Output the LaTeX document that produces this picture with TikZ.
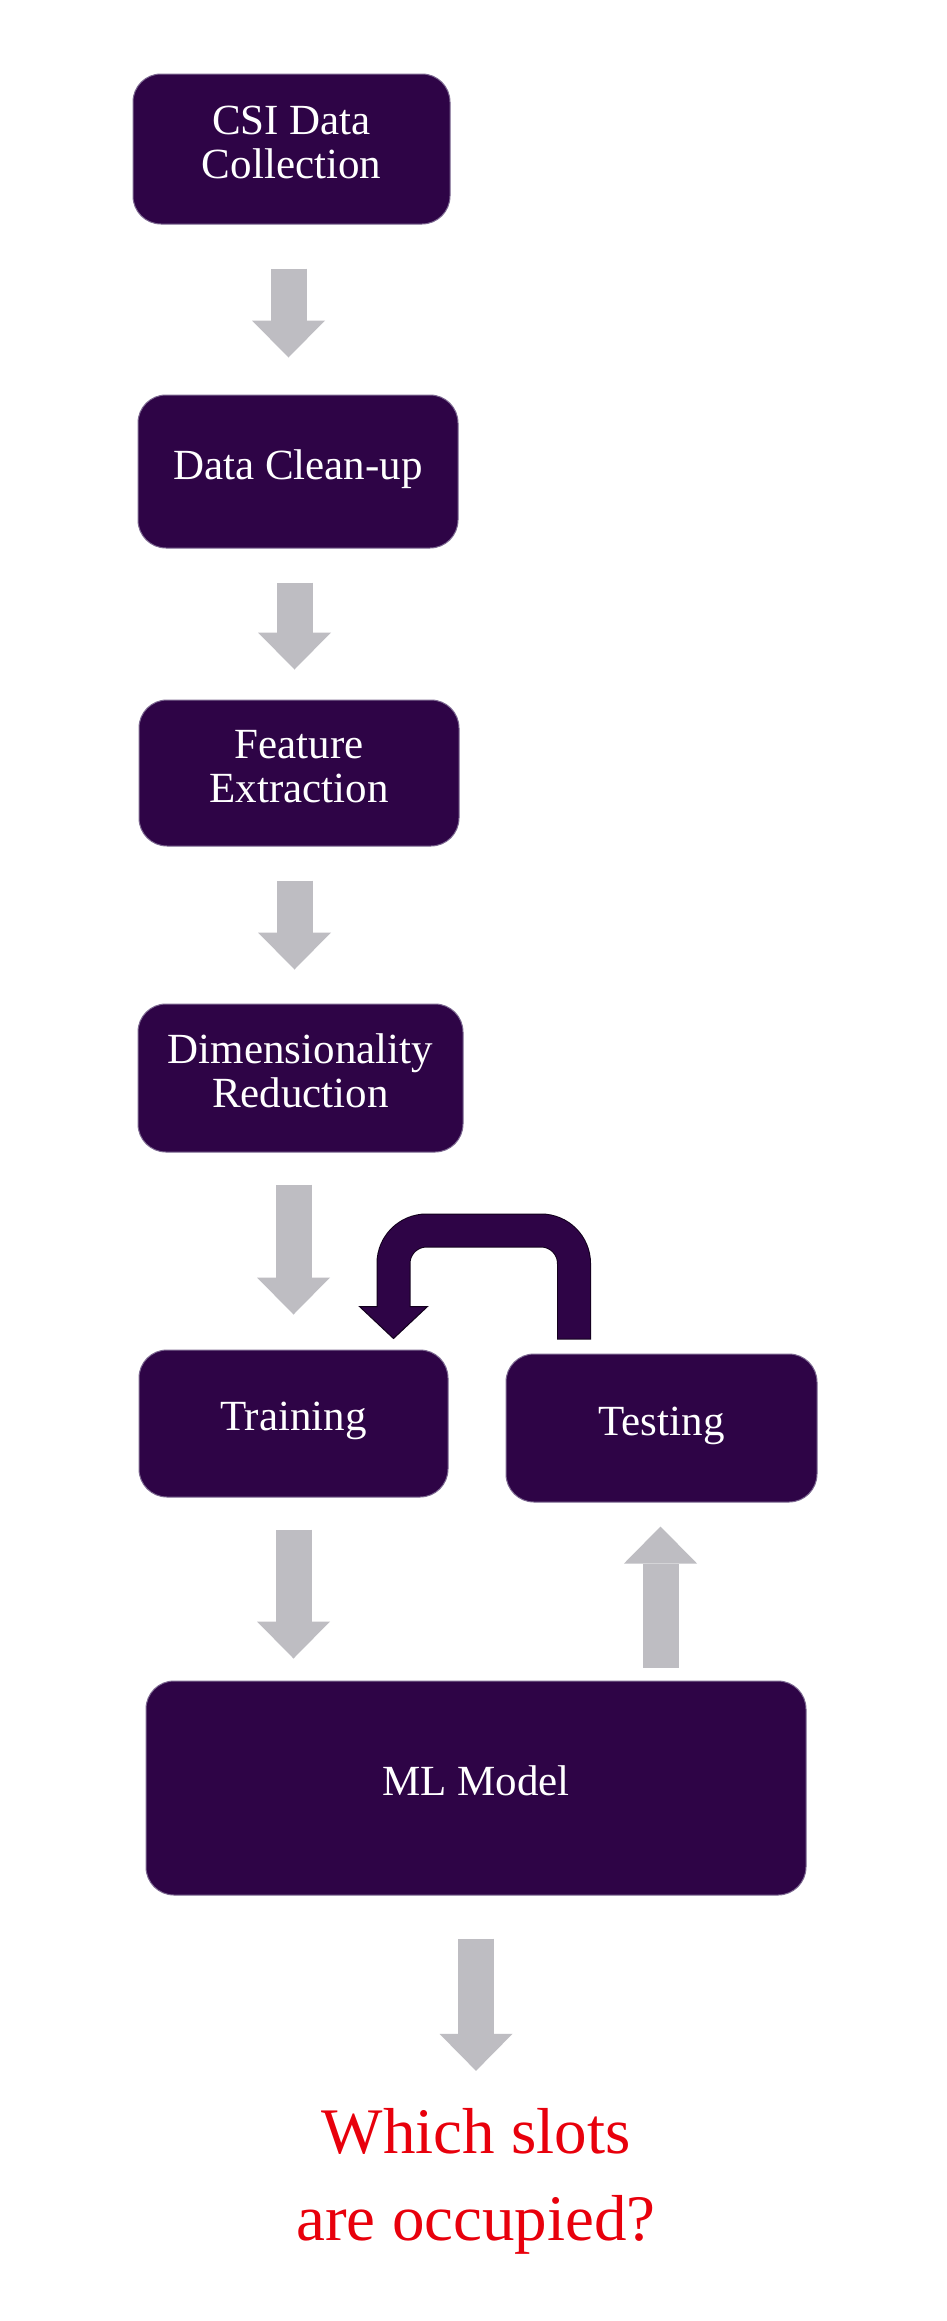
\documentclass[tikz,border=0pt]{standalone}
\usepackage{fontspec}
\setmainfont{Liberation Serif}
\usetikzlibrary{arrows.meta,positioning,calc}

\definecolor{boxpurple}{RGB}{46,4,70}
\definecolor{boxedge}{RGB}{125,105,145}
\definecolor{loopedge}{RGB}{18,0,28}
\definecolor{arrowgray}{RGB}{190,189,194}
\definecolor{answerred}{RGB}{232,0,12}

\tikzset{
  stage/.style={draw=boxedge, line width=1pt, fill=boxpurple, text=white,
    rounded corners=28pt, inner sep=0pt, align=center, text depth=14pt,
    font=\fontsize{43}{44}\selectfont},
  answer/.style={text=answerred, inner sep=0pt, align=center,
    font=\fontsize{65}{87}\selectfont},
  flow/.style={draw=arrowgray, line width=36pt, shorten <=34pt, shorten >=34pt,
    -{Triangle[length=37pt 0 0, width=73pt 0 0, line width=0pt 0 0]}},
}

\begin{document}
\begin{tikzpicture}[x=1pt, y=-1pt]
\fill[white] (0,0) rectangle (947,2321);
\useasboundingbox (0,0) rectangle (947,2321);

% Pipeline stages
\node[stage, minimum width=317pt, minimum height=150pt] (csi) at (291.5,149) {CSI Data\\Collection};
\node[stage, minimum width=320pt, minimum height=153pt] (clean) at (298,471.5) {Data Clean-up};
\node[stage, minimum width=320pt, minimum height=146pt] (feat) at (299,773) {Feature\\Extraction};
\node[stage, minimum width=325pt, minimum height=148pt] (dim) at (300.5,1078) {Dimensionality\\Reduction};

% Training / testing
\node[stage, minimum width=309pt, minimum height=147pt] (train) at (293.5,1423.5) {Training};
\node[stage, minimum width=311pt, minimum height=148pt] (test) at (661.5,1428) {Testing};
\node[stage, minimum width=660pt, minimum height=214pt] (ml) at (476,1788) {ML Model};

% Result
\node[answer] (ans) at (476,2181) {Which slots\\are occupied?};

% Grey block arrows
\draw[flow, shorten <=44pt, shorten >=37pt] ([xshift=-3pt]csi.south) -- ([xshift=-3pt]csi.south |- clean.north);
\draw[flow, shorten >=30pt] ([xshift=-3.5pt]clean.south) -- ([xshift=-3.5pt]clean.south |- feat.north);
\draw[flow] ([xshift=-4.5pt]feat.south) -- ([xshift=-4.5pt]feat.south |- dim.north);
\draw[flow, shorten <=32pt, shorten >=35pt] ([xshift=-7pt]dim.south) -- ([xshift=-7pt]dim.south |- train.north);
\draw[flow, shorten <=32pt, shorten >=22pt] (train.south) -- (train.south |- ml.north);
\draw[flow, shorten <=13pt, shorten >=24pt] ([xshift=-1pt]test.south |- ml.north) -- ([xshift=-1pt]test.south);
\draw[flow, shorten <=43pt, shorten >=37pt] (ml.south) -- (ml.south |- ans.north);

% Feedback loop from testing back to training
\coordinate (loopstart) at ($(test.north west)+(68.5,-15)$);
\coordinate (loopend) at ($(train.north east)+(-55,-11)$);
\coordinate (loopR) at ($(loopstart)+(0,-108)$);
\coordinate (loopL) at (loopR -| loopend);
\coordinate (loophead) at ($(loopend)+(0,-32)$);
\draw[draw=loopedge, line width=34pt, rounded corners=33pt] ($(loopstart)+(0,1)$) -- (loopR) -- (loopL) -- (loophead);
\filldraw[fill=boxpurple, draw=loopedge, line width=1pt] ($(loophead)+(-34,0)$) -- ($(loophead)+(34,0)$) -- (loopend) -- cycle;
\draw[draw=boxpurple, line width=32pt, rounded corners=33pt] (loopstart) -- (loopR) -- (loopL) -- ($(loophead)+(0,1.5)$);
\end{tikzpicture}
\end{document}
